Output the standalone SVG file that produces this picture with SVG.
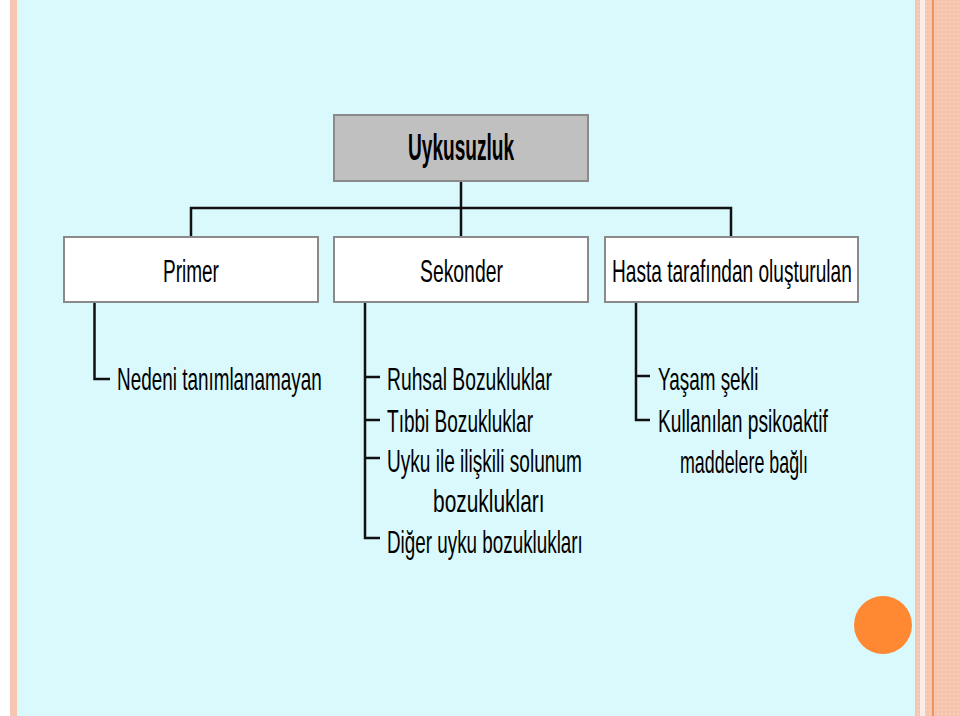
<svg xmlns="http://www.w3.org/2000/svg" width="960" height="716" viewBox="0 0 960 716">
<style>
.box{fill:#ffffff;stroke:#8a8a8a;stroke-width:2}
.root{fill:#c0c0c0;stroke:#8a8a8a;stroke-width:2}
.t{font-family:"Liberation Sans",Arial,sans-serif;font-size:31px;fill:#000}
.tb{font-family:"Liberation Sans",Arial,sans-serif;font-size:37px;font-weight:bold;fill:#000}
.c{fill:none;stroke:#111;stroke-width:2.5}
</style>
<defs>
<pattern id="dots" width="4" height="4" patternUnits="userSpaceOnUse">
<rect width="4" height="4" fill="#f6c3ab"/>
<circle cx="2" cy="2" r="0.8" fill="#fbe0d3"/>
</pattern>
</defs>
<rect x="0" y="0" width="960" height="716" fill="#ffffff"/>
<rect x="17" y="0" width="898" height="716" fill="#d9f9fc"/>
<rect x="10" y="0" width="7" height="716" fill="#f6c6b1"/>
<rect x="915" y="0" width="5" height="716" fill="url(#dots)"/>
<rect x="920" y="0" width="5" height="716" fill="#f8ede8"/>
<rect x="925" y="0" width="35" height="716" fill="url(#dots)"/>
<line x1="933" y1="0" x2="933" y2="716" stroke="#ee8040" stroke-width="1.5"/>
<circle cx="883" cy="625" r="29" fill="#ff8833"/>

<g id="connectors">
<path class="c" d="M461 181V237M191 237V208H731V237"/>
<path class="c" d="M94.5 302V379H110"/>
<path class="c" d="M365 302V538H380M365 377H380M365 420H380M365 458H380"/>
<path class="c" d="M636 302V420H650M636 376H650"/>
</g>

<g id="uykusuzluk">
<rect class="root" x="334" y="115" width="254" height="66"/>
<text class="tb" transform="translate(408 160) scale(0.516 1)">Uykusuzluk</text>
</g>
<g id="primer">
<rect class="box" x="64" y="237" width="254" height="65"/>
<text class="t" transform="translate(163 282) scale(0.613 1)">Primer</text>
</g>
<g id="sekonder">
<rect class="box" x="334" y="237" width="254" height="65"/>
<text class="t" transform="translate(420 282) scale(0.625 1)">Sekonder</text>
</g>
<g id="hasta">
<rect class="box" x="605" y="237" width="253" height="65"/>
<text class="t" transform="translate(612 282) scale(0.616 1)">Hasta tarafından oluşturulan</text>
</g>

<g id="primer-items">
<text class="t" transform="translate(117 390) scale(0.61 1)">Nedeni tanımlanamayan</text>
</g>
<g id="sekonder-items">
<text class="t" transform="translate(387 390) scale(0.622 1)">Ruhsal Bozukluklar</text>
<text class="t" transform="translate(387 432) scale(0.614 1)">Tıbbi Bozukluklar</text>
<text class="t" transform="translate(387 472) scale(0.615 1)">Uyku ile ilişkili solunum</text>
<text class="t" transform="translate(433 512) scale(0.675 1)">bozuklukları</text>
<text class="t" transform="translate(387 553) scale(0.608 1)">Diğer uyku bozuklukları</text>
</g>
<g id="hasta-items">
<text class="t" transform="translate(658 390) scale(0.61 1)">Yaşam şekli</text>
<text class="t" transform="translate(658 432) scale(0.62 1)">Kullanılan psikoaktif</text>
<text class="t" transform="translate(680 473) scale(0.576 1)">maddelere bağlı</text>
</g>
</svg>
